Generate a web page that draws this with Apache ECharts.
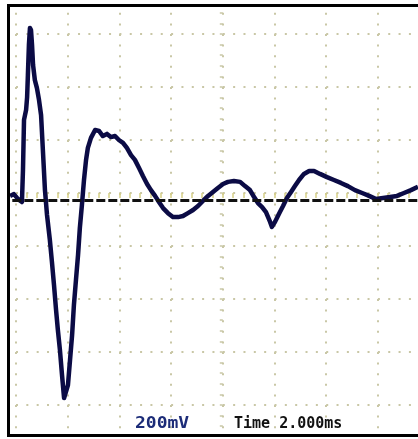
<!DOCTYPE html>
<html>
<head>
<meta charset="utf-8">
<script src="https://cdn.jsdelivr.net/npm/echarts@6/dist/echarts.min.js"></script>
<style>
html,body{margin:0;padding:0;background:#fff;}
#chart{width:418px;height:439px;}
</style>
</head>
<body>
<div id="chart"></div>
<script>
// Time (ms) relative to screen centre, 2 ms/div
const timeMs = [-8.23,-8.08,-7.92,-7.77,-7.73,-7.69,-7.61,-7.57,-7.54,-7.50,-7.46,-7.42,-7.38,-7.34,-7.27,-7.19,-7.11,-7.03,-6.96,-6.88,-6.80,-6.69,-6.61,-6.53,-6.45,-6.38,-6.30,-6.22,-6.14,-6.07,-5.99,-5.91,-5.83,-5.76,-5.68,-5.60,-5.53,-5.45,-5.37,-5.29,-5.22,-5.10,-4.94,-4.79,-4.64,-4.48,-4.33,-4.17,-4.02,-3.86,-3.71,-3.55,-3.40,-3.24,-3.09,-2.93,-2.78,-2.62,-2.47,-2.31,-2.12,-1.93,-1.73,-1.54,-1.35,-1.15,-0.96,-0.77,-0.57,-0.38,-0.19,0.01,0.20,0.43,0.67,0.86,1.05,1.21,1.36,1.52,1.67,1.83,1.90,2.02,2.17,2.33,2.48,2.64,2.79,2.95,3.14,3.34,3.53,3.76,4.03,4.30,4.57,4.84,5.11,5.39,5.66,5.93,6.20,6.47,6.74,7.01,7.28,7.55];
// Voltage (mV), 200 mV/div
const voltageMv = [-11,-4,-23,-34,87,276,313,362,445,559,623,615,559,483,426,396,351,294,162,11,-83,-177,-260,-347,-442,-517,-593,-687,-774,-781,-725,-630,-536,-423,-328,-234,-132,-45,49,125,170,208,238,234,215,223,211,215,200,189,170,143,125,94,64,34,11,-11,-34,-57,-76,-91,-91,-87,-76,-64,-49,-30,-11,4,19,34,42,45,42,26,11,-15,-38,-53,-72,-109,-128,-109,-79,-49,-19,4,26,49,72,83,83,72,60,49,38,26,11,0,-11,-23,-19,-15,-11,0,11,23];
const referenceLevelMv = -26;
const voltsLabel = '200mV';
const timeLabel = 'Time 2.000ms';

const series = timeMs.map((t, i) => [t, voltageMv[i]]);

const chart = echarts.init(document.getElementById('chart'), null, {renderer: 'canvas'});
const dotColor = '#c9c7a6';
const tickColor = '#d6cf86';
chart.setOption({
  animation: false,
  backgroundColor: '#ffffff',
  grid: {left: -35.7, right: -11.6, top: -72, bottom: -19, containLabel: false, outerBoundsMode: 'none'},
  xAxis: {
    type: 'value', min: -10, max: 8, interval: 2,
    axisLine: {show: true, onZero: true, lineStyle: {color: 'rgba(0,0,0,0)'}},
    axisTick: {show: true, length: 5, lineStyle: {color: tickColor, width: 1.5}},
    minorTick: {show: true, splitNumber: 5, length: 5, lineStyle: {color: tickColor, width: 1.5}},
    axisLabel: {show: false},
    splitLine: {show: true, lineStyle: {color: dotColor, width: 2, type: [2, 8.6]}}
  },
  yAxis: {
    type: 'value', min: -1000, max: 1000, interval: 200,
    axisLine: {show: true, onZero: true, lineStyle: {color: 'rgba(0,0,0,0)'}},
    axisTick: {show: true, length: 3, lineStyle: {color: dotColor, width: 1.5}},
    minorTick: {show: true, splitNumber: 5, length: 3, lineStyle: {color: dotColor, width: 1.5}},
    axisLabel: {show: false},
    splitLine: {show: true, lineStyle: {color: dotColor, width: 2, type: [2, 8.34]}}
  },
  series: [{
    type: 'line',
    data: series,
    showSymbol: false,
    smooth: false,
    lineStyle: {color: '#0b0b45', width: 4.5, join: 'round'},
    markLine: {
      silent: true, symbol: 'none', label: {show: false},
      lineStyle: {color: '#111111', width: 3, type: [9, 3]},
      data: [{yAxis: referenceLevelMv}]
    }
  }],
  graphic: [
    {type: 'rect', shape: {x: 0, y: 0, width: 8, height: 439}, style: {fill: '#fff'}, z: 99},
    {type: 'rect', shape: {x: 0, y: 0, width: 418, height: 5}, style: {fill: '#fff'}, z: 99},
    {type: 'rect', shape: {x: 0, y: 436, width: 418, height: 3}, style: {fill: '#fff'}, z: 99},
    {type: 'line', shape: {x1: 8.5, y1: 4, x2: 8.5, y2: 437}, style: {stroke: '#000', lineWidth: 3}, z: 100},
    {type: 'line', shape: {x1: 7, y1: 5.5, x2: 418, y2: 5.5}, style: {stroke: '#000', lineWidth: 3}, z: 100},
    {type: 'line', shape: {x1: 7, y1: 435.5, x2: 418, y2: 435.5}, style: {stroke: '#000', lineWidth: 3}, z: 100},
    {type: 'text', x: 135, y: 432, scaleX: 1.2, style: {text: voltsLabel, font: 'bold 15px "DejaVu Sans Mono"', fill: '#1c2c78', textVerticalAlign: 'bottom', textBaseline: 'bottom'}, z: 100},
    {type: 'text', x: 234, y: 432, style: {text: timeLabel, font: 'bold 15px "DejaVu Sans Mono"', fill: '#111111', textVerticalAlign: 'bottom', textBaseline: 'bottom'}, z: 100}
  ]
});
</script>
</body>
</html>
